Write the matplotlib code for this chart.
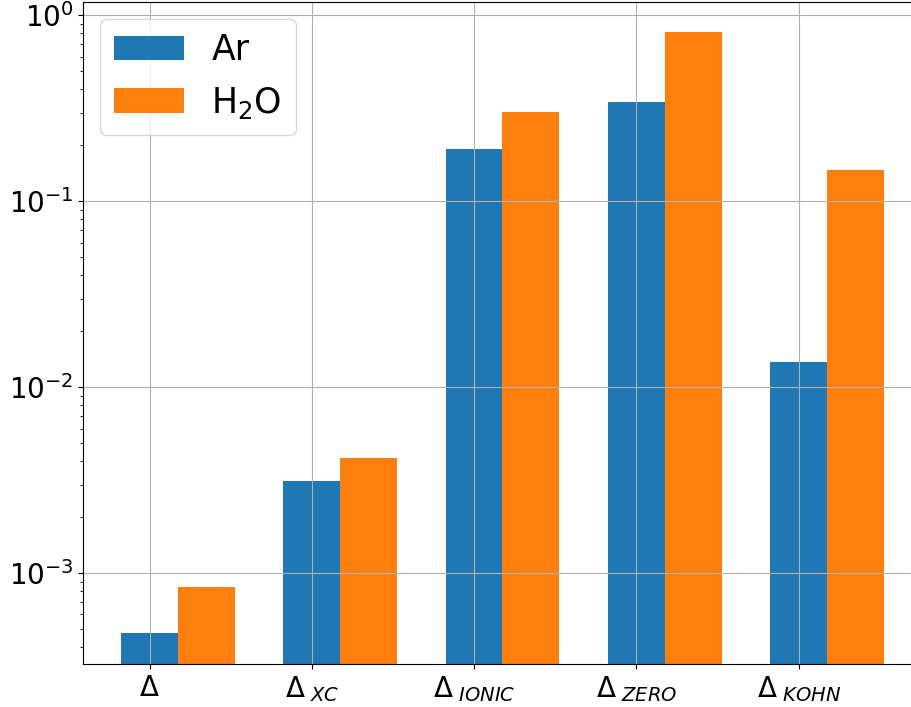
import matplotlib
matplotlib.use("Agg")
import matplotlib.pyplot as plt
import numpy as np

# values (log scale)
labels = [r'$\Delta$', r'$\Delta_{\ XC}$', r'$\Delta_{\ IONIC}$',
          r'$\Delta_{\ ZERO}$', r'$\Delta_{\ KOHN}$']
ar = [4.75e-4, 3.13e-3, 0.190, 0.344, 0.0136]
h2o = [8.4e-4, 4.15e-3, 0.303, 0.816, 0.148]

width = 0.35
x = np.arange(len(labels))

fig = plt.figure(figsize=(9.12, 7.07), dpi=100)
ax = fig.add_axes([83 / 912, 43 / 707, (922 - 83) / 912, (664 - 2) / 707])

ax.bar(x, ar, width, label='Ar')
ax.bar(x + width, h2o, width, label=r'H$_2$O')

ax.set_yscale('log')
ax.set_ylim(3.25e-4, 1.18)
ax.set_xticks(x)
ax.set_xticklabels(labels, fontsize=20)
ax.tick_params(axis='y', labelsize=20)
ax.grid(True)
ax.legend(loc='upper left', fontsize=25)

fig.savefig('out.png', dpi=100)
